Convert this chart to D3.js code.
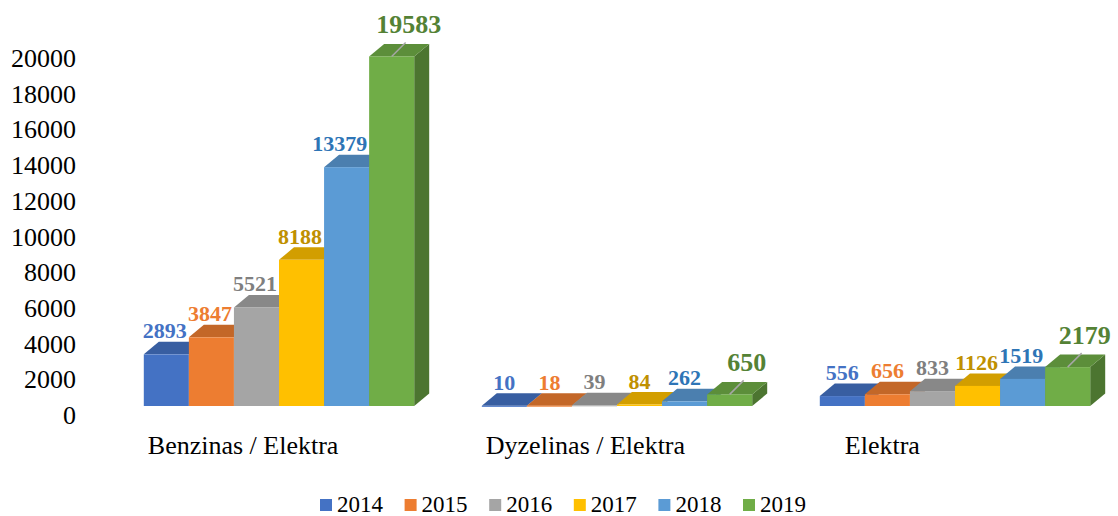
<!DOCTYPE html>
<meta charset="utf-8" />
<script src="https://d3js.org/d3.v7.min.js"></script>
<style>
  body { margin: 0; background: #fff; }
</style>
<div id="chart"></div>
<script>
  const categories = ['Benzinas / Elektra', 'Dyzelinas / Elektra', 'Elektra'];
  const years = ['2014', '2015', '2016', '2017', '2018', '2019'];
  const values = {
    '2014': [2893, 10, 556],
    '2015': [3847, 18, 656],
    '2016': [5521, 39, 833],
    '2017': [8188, 84, 1126],
    '2018': [13379, 262, 1519],
    '2019': [19583, 650, 2179],
  };
  const yTicks = [0, 2000, 4000, 6000, 8000, 10000, 12000, 14000, 16000, 18000, 20000];

  const colors = ['#4472C4', '#ED7D31', '#A5A5A5', '#FFC000', '#5B9BD5', '#70AD47'];
  const labelColors = ['#4472C4', '#ED7D31', '#7F7F7F', '#BF9000', '#2E75B6', '#548235'];

  const width = 1118, height = 516;
  const depthX = 15, depthY = 12.5; // fake 3d depth
  const frontShift = 9.5; // front face sits above the axis zero

  const svg = d3.select('#chart').append('svg')
    .attr('width', width).attr('height', height)
    .attr('font-family', '"Liberation Serif", "Times New Roman", "DejaVu Serif", serif');

  const y = d3.scaleLinear().domain([0, 20000]).range([415.5, 58.5]);
  const x0 = d3.scaleBand().domain(categories).range([110, 1124])
    .paddingInner(0.2).paddingOuter(0.1);
  const x1 = d3.scaleBand().domain(years).range([0, x0.bandwidth()]);

  // y axis labels (no line, no ticks)
  svg.append('g').selectAll('text')
    .data(yTicks)
    .join('text')
    .attr('x', 76)
    .attr('y', d => y(d) + 8.5)
    .attr('text-anchor', 'end')
    .attr('font-size', 26)
    .attr('fill', '#000')
    .text(d => d);

  // category labels
  svg.append('g').selectAll('text')
    .data(categories)
    .join('text')
    .attr('x', (d, i) => x0(d) + (i === 2 ? 25 : 4))
    .attr('y', 454)
    .attr('font-size', 26)
    .attr('fill', '#000')
    .text(d => d);

  const bars = svg.append('g');
  categories.forEach((cat, ci) => {
    years.forEach((yr, yi) => {
      const v = values[yr][ci];
      const l = x0(cat) + x1(yr);
      const r = l + x1.bandwidth();
      const b = y(0) - frontShift;
      const t = y(v) - frontShift;
      const c = d3.color(colors[yi]);
      const g = bars.append('g');
      // side face
      g.append('path')
        .attr('d', `M${r},${b}L${r + depthX},${b - depthY}L${r + depthX},${t - depthY}L${r},${t}Z`)
        .attr('fill', c.darker(1.1));
      // top face
      g.append('path')
        .attr('d', `M${l},${t}L${l + depthX},${t - depthY}L${r + depthX},${t - depthY}L${r},${t}Z`)
        .attr('fill', c.darker(0.55));
      // front face
      g.append('rect')
        .attr('x', l).attr('y', t)
        .attr('width', r - l).attr('height', Math.max(b - t, 1))
        .attr('fill', c);
    });
  });

  // value labels
  const labels = svg.append('g');
  categories.forEach((cat, ci) => {
    years.forEach((yr, yi) => {
      const v = values[yr][ci];
      const cx = x0(cat) + x1(yr) + x1.bandwidth() / 2;
      const t = y(v) - frontShift;
      const last = yi === years.length - 1;
      if (last) {
        labels.append('line')
          .attr('x1', cx).attr('y1', t)
          .attr('x2', cx + 14).attr('y2', t - 14)
          .attr('stroke', '#A6A6A6').attr('stroke-width', 1.5);
      }
      const txt = labels.append('text')
        .attr('x', last ? cx + 17 : cx)
        .attr('y', last ? t - 23 : t - 16)
        .attr('text-anchor', 'middle')
        .attr('font-size', last ? 26 : 22)
        .attr('font-weight', 'bold')
        .attr('fill', labelColors[yi])
        .text(v);
      if (!last) {
        // keep the label clear of a taller neighbour on the right
        const nextTop = y(values[years[yi + 1]][ci]) - frontShift - depthY;
        const nextLeft = x0(cat) + x1(years[yi + 1]);
        const w = txt.node().getComputedTextLength();
        if (nextTop < t - 16 && cx + w / 2 > nextLeft - 2) {
          txt.attr('x', nextLeft - 2 - w / 2);
        }
      }
    });
  });

  // legend
  const legend = svg.append('g').selectAll('g')
    .data(years)
    .join('g')
    .attr('transform', (d, i) => `translate(${320 + i * 84.6},499)`);
  legend.append('rect')
    .attr('width', 12).attr('height', 12)
    .attr('fill', (d, i) => colors[i]);
  legend.append('text')
    .attr('x', 17).attr('y', 13)
    .attr('font-size', 23)
    .attr('fill', '#000')
    .text(d => d);
</script>
